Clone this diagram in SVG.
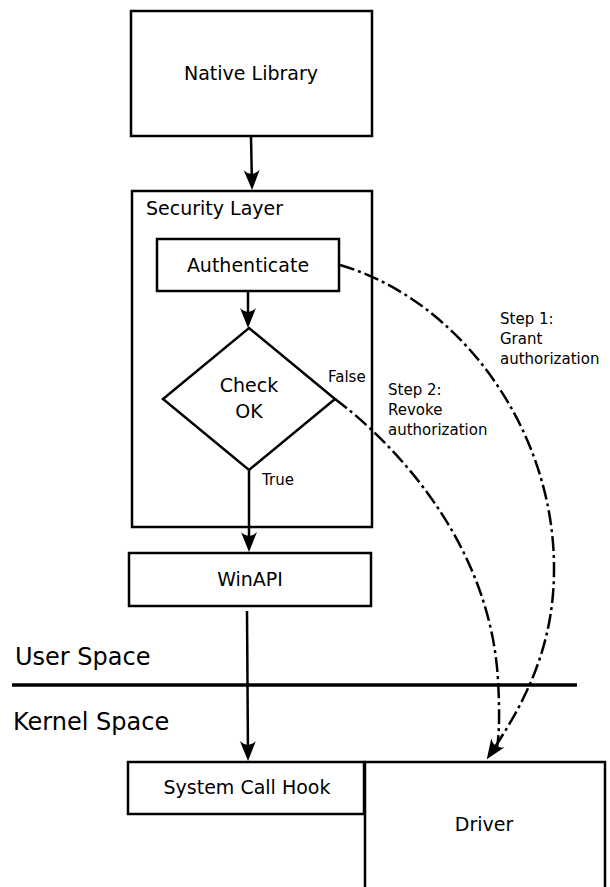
<svg xmlns="http://www.w3.org/2000/svg" width="610" height="887" viewBox="0 0 610 887">
<defs>
<style>
.box{fill:#fff;stroke:#000;stroke-width:2.5}
.t{font-family:"DejaVu Sans",sans-serif;fill:#000}
.m{font-size:19px}
.s{font-size:15px}
.l{font-size:24px}
.c{text-anchor:middle}
.ln{fill:none;stroke:#000;stroke-width:2.5}
.dd{fill:none;stroke:#000;stroke-width:2.5;stroke-dasharray:15,4,3,4}
</style>
<marker id="ah" markerUnits="userSpaceOnUse" viewBox="-18 -9 24 18" refX="0" refY="0" markerWidth="24" markerHeight="18" orient="auto">
<path d="M4,0 L-16,-8 C-11,-3 -11,3 -16,8 Z" fill="#000"/>
</marker>
</defs>
<rect width="610" height="887" fill="#fff"/>
<g id="native-library">
<rect class="box" x="131" y="11" width="241" height="125"/>
<text class="t m c" x="251" y="80">Native Library</text>
</g>
<g id="security-layer">
<rect class="box" x="132" y="191" width="240" height="336"/>
<text class="t m" x="146" y="215">Security Layer</text>
</g>
<g id="authenticate">
<rect class="box" x="157" y="239" width="182" height="52"/>
<text class="t m c" x="248" y="272">Authenticate</text>
</g>
<g id="check-ok">
<polygon class="box" points="249,328 335,399 249,470 163,399"/>
<text class="t m c" x="249" y="392">Check</text>
<text class="t m c" x="249" y="418">OK</text>
</g>
<g id="winapi">
<rect class="box" x="129" y="553" width="242" height="53"/>
<text class="t m c" x="250" y="586">WinAPI</text>
</g>
<g id="space-divider">
<line x1="12" y1="685" x2="577" y2="685" stroke="#000" stroke-width="3.5"/>
<text class="t l" x="15" y="665">User Space</text>
<text class="t l" x="13" y="730">Kernel Space</text>
</g>
<g id="system-call-hook">
<rect class="box" x="128" y="762" width="236" height="52"/>
<text class="t m c" x="247" y="794">System Call Hook</text>
</g>
<g id="driver">
<rect class="box" x="365" y="762" width="240" height="130"/>
<text class="t m c" x="484" y="831">Driver</text>
</g>
<g id="connectors">
<path class="ln" d="M251,137 L252,186" marker-end="url(#ah)"/>
<path class="ln" d="M248,292 L248,324" marker-end="url(#ah)"/>
<path class="ln" d="M249,470 L249,548" marker-end="url(#ah)"/>
<path class="ln" d="M247,611 L248,757" marker-end="url(#ah)"/>
<path class="dd" d="M340,265 C460,300 555,430 554,570 C554,650 522,707 489,756" marker-end="url(#ah)"/>
<path class="dd" d="M335,399 C390,440 490,540 498,680 C500,715 499,735 497,748"/>
<text class="t s" x="328" y="382">False</text>
<text class="t s" x="262" y="485">True</text>
<text class="t s" x="500" y="324">Step 1:</text>
<text class="t s" x="500" y="344">Grant</text>
<text class="t s" x="500" y="364">authorization</text>
<text class="t s" x="388" y="395">Step 2:</text>
<text class="t s" x="388" y="415">Revoke</text>
<text class="t s" x="388" y="435">authorization</text>
</g>
</svg>
